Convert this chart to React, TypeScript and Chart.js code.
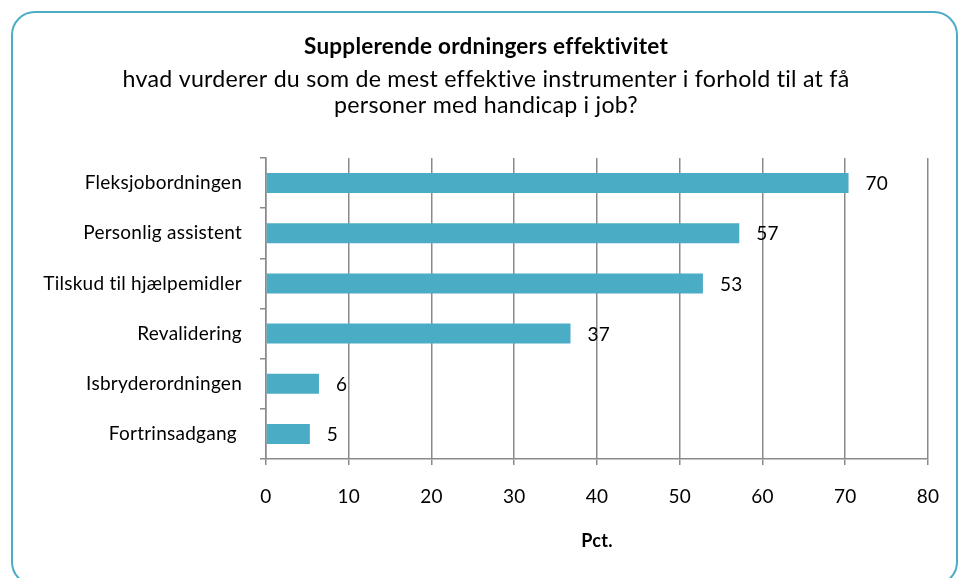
import React, { useEffect, useRef } from "react";
import { Chart, registerables } from "chart.js";

Chart.register(...registerables);

const categories = [
  "Fleksjobordningen",
  "Personlig assistent",
  "Tilskud til hjælpemidler",
  "Revalidering",
  "Isbryderordningen",
  "Fortrinsadgang ",
];
const values = [70.4, 57.2, 52.8, 36.8, 6.4, 5.3];
const valueLabels = ["70", "57", "53", "37", "6", "5"];
const xMin = 0;
const xMax = 80;
const xStep = 10;
const titleText = "Supplerende ordningers effektivitet";
const subtitleLines = [
  "hvad vurderer du som de mest effektive instrumenter i forhold til at få",
  "personer med handicap i job?",
];
const xAxisTitle = "Pct.";

const FONT = "Lato";
const BAR_COLOR = "#4BACC6";
const GRID_COLOR = "#8a8a8a";

const spacingPlugin = {
  id: "noLigatures",
  beforeInit(chart: any) {
    chart.ctx.letterSpacing = "0.25px";
  },
  beforeDraw(chart: any) {
    chart.ctx.letterSpacing = "0.25px";
  },
};

const titlePlugin = {
  id: "customTitles",
  afterDraw(chart: any) {
    const ctx = chart.ctx;
    ctx.save();
    ctx.letterSpacing = "0.25px";
    ctx.fillStyle = "#000";
    ctx.textAlign = "center";
    ctx.textBaseline = "middle";
    const cx = 486;
    ctx.font = `bold 22.5px ${FONT}`;
    ctx.fillText(titleText, cx, 47);
    ctx.font = `23.2px ${FONT}`;
    subtitleLines.forEach((line, i) => ctx.fillText(line, cx, 80 + i * 26));
    ctx.restore();
  },
};

const valueLabelPlugin = {
  id: "valueLabels",
  afterDatasetsDraw(chart: any) {
    const ctx = chart.ctx;
    const meta = chart.getDatasetMeta(0);
    ctx.save();
    ctx.fillStyle = "#000";
    ctx.font = `19px ${FONT}`;
    ctx.textAlign = "left";
    ctx.textBaseline = "middle";
    meta.data.forEach((bar: any, i: number) => {
      ctx.fillText(valueLabels[i], bar.x + 17, bar.y + 1);
    });
    ctx.restore();
  },
};

export default function App() {
  const ref = useRef<HTMLCanvasElement>(null);

  useEffect(() => {
    document.body.style.margin = "0";
    const chart = new Chart(ref.current!, {
      type: "bar",
      data: {
        labels: categories,
        datasets: [
          {
            data: values,
            backgroundColor: BAR_COLOR,
            barPercentage: 0.4,
            categoryPercentage: 1,
          },
        ],
      },
      options: {
        indexAxis: "y",
        responsive: false,
        animation: false,
        layout: { padding: { top: 158, right: 28, left: 0, bottom: 0 } },
        plugins: {
          legend: { display: false },
          tooltip: { enabled: false },
          title: { display: false },
        },
        scales: {
          x: {
            min: xMin,
            max: xMax,
            ticks: {
              stepSize: xStep,
              color: "#000",
              font: { family: FONT, size: 19 },
              padding: 20,
            },
            grid: { color: GRID_COLOR, lineWidth: 1.5, tickLength: 6 },
            border: { color: GRID_COLOR, width: 1.5 },
            title: {
              display: true,
              text: xAxisTitle,
              color: "#000",
              font: { family: FONT, size: 18, weight: "bold" },
              padding: { top: 0, bottom: 26 },
            },
            afterFit: (s: any) => {
              s.height = 119;
            },
          },
          y: {
            grid: {
              offset: true,
              drawOnChartArea: false,
              color: GRID_COLOR,
              lineWidth: 1.5,
              tickLength: 6,
            },
            border: { color: GRID_COLOR, width: 1.5 },
            ticks: {
              color: "#000",
              font: { family: FONT, size: 19 },
              padding: 18,
            },
            afterFit: (s: any) => {
              s.width = 266;
            },
          },
        },
      },
      plugins: [spacingPlugin, titlePlugin, valueLabelPlugin],
    });
    return () => chart.destroy();
  }, []);

  return (
    <div style={{ position: "fixed", left: 0, top: 0, width: 959, height: 578, overflow: "hidden", background: "#fff" }}>
      <div
        style={{
          position: "absolute",
          left: 11,
          top: 11,
          width: 947,
          height: 575,
          border: "2px solid #4BACC6",
          borderRadius: 24,
          boxSizing: "border-box",
        }}
      />
      <canvas ref={ref} width={959} height={578} style={{ position: "absolute", left: 0, top: 0, display: "block" }} />
    </div>
  );
}
